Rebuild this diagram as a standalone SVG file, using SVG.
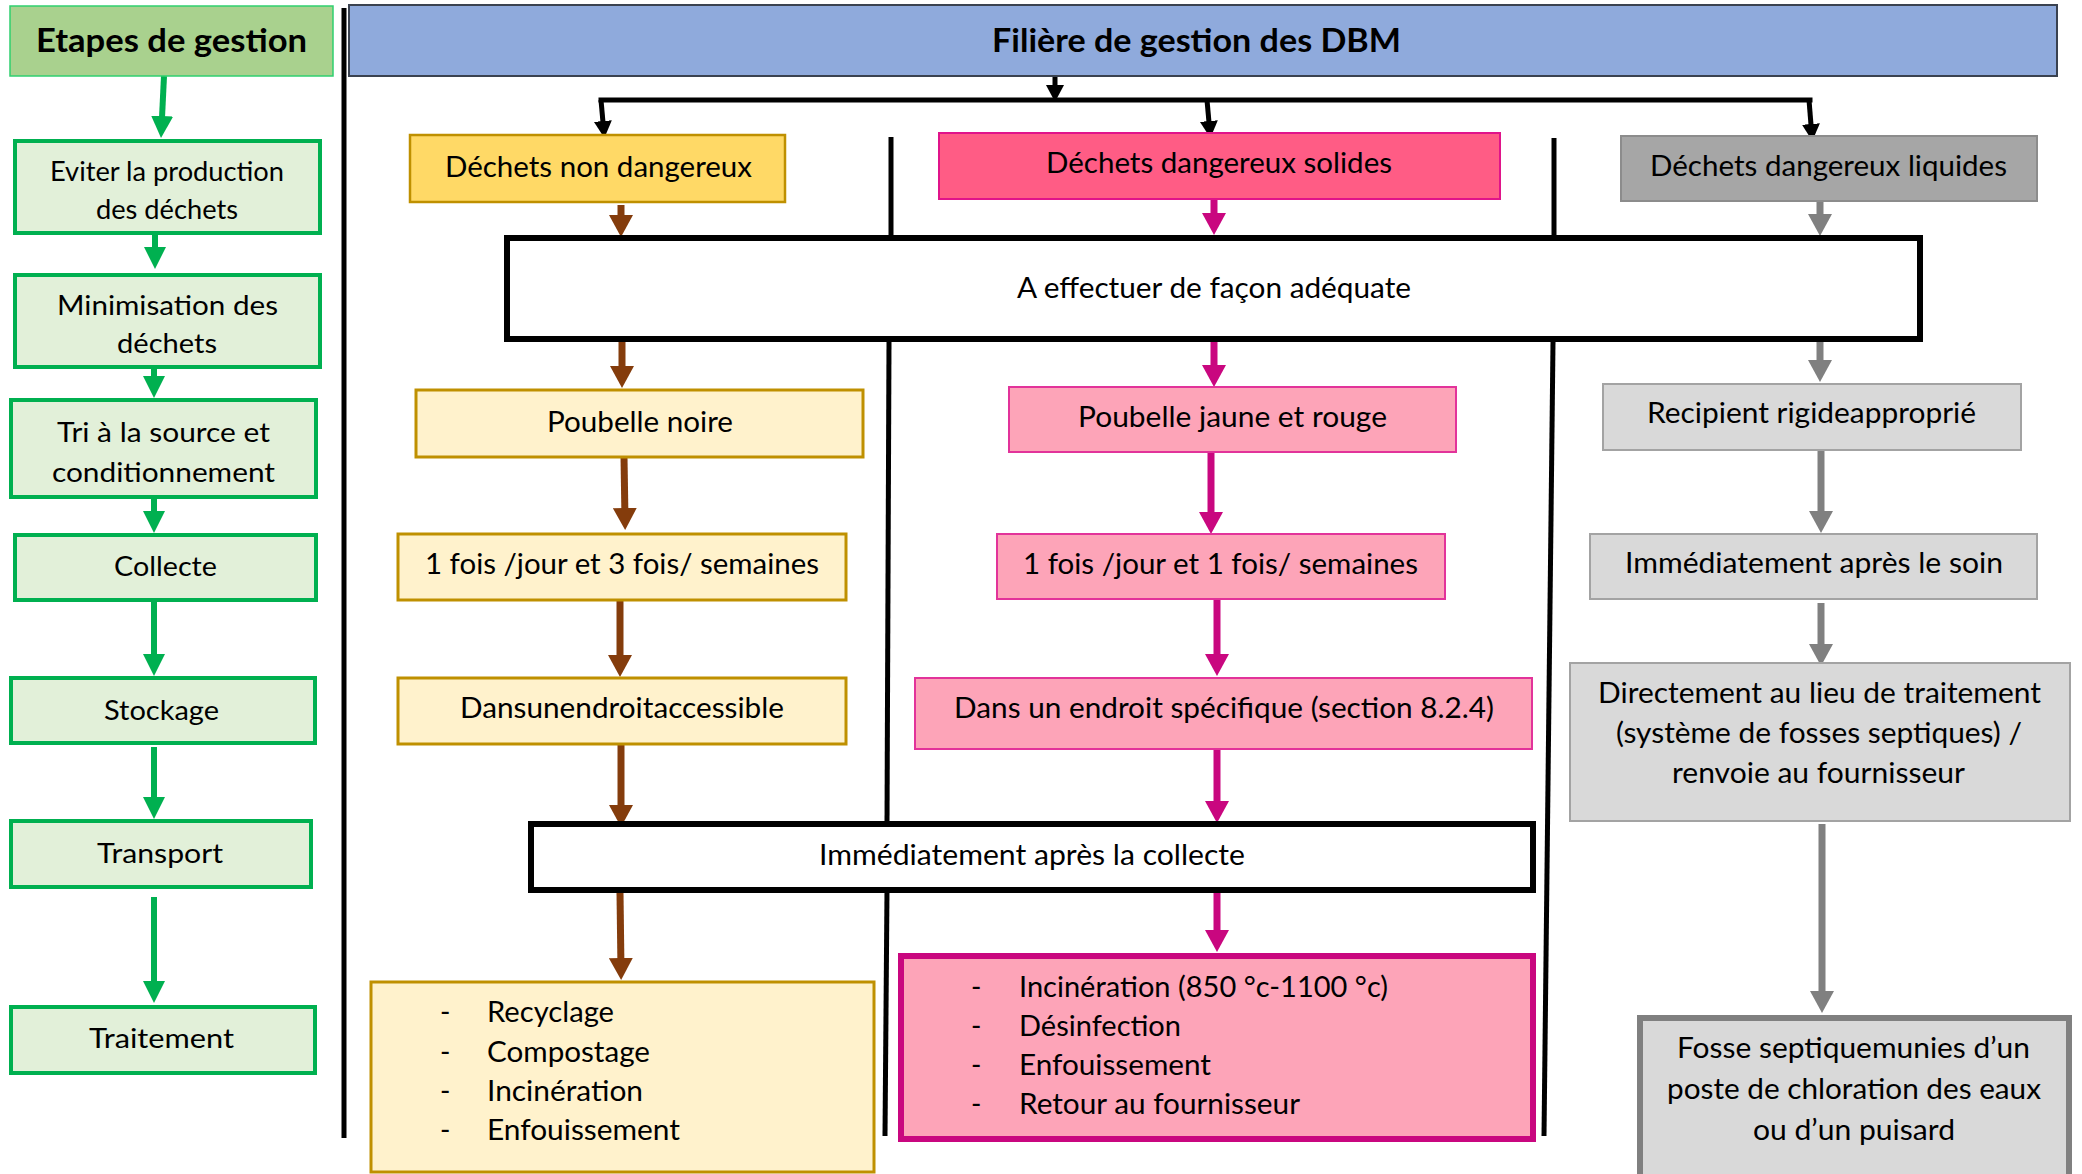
<svg xmlns="http://www.w3.org/2000/svg" width="2082" height="1174" viewBox="0 0 2082 1174">
<defs>
<style>
text{font-family:Lato,"Liberation Sans",sans-serif;fill:#000;}
.t{font-size:28px;}
.s{font-size:26px;}
.h{font-size:33px;font-weight:bold;}
.g{fill:#e2f0d9;stroke:#00b050;stroke-width:4;}
.gh{fill:#a9d18e;stroke:#2fcf6f;stroke-width:1.5;}
.bl{fill:#8faadc;stroke:#3a4250;stroke-width:2;}
.yh{fill:#ffd966;stroke:#bf9000;stroke-width:2.5;}
.yl{fill:#fff2cc;stroke:#bf9000;stroke-width:3;}
.ph{fill:#ff5c85;stroke:#e0148a;stroke-width:2;}
.pl{fill:#fda4b8;stroke:#e2339a;stroke-width:2;}
.pf{fill:#fda4b8;stroke:#c9077f;stroke-width:6;}
.gyh{fill:#a6a6a6;stroke:#8c8c8c;stroke-width:2;}
.gyl{fill:#d9d9d9;stroke:#a3a3a3;stroke-width:2;}
.gyf{fill:#d9d9d9;stroke:#808080;stroke-width:6;}
.wb{fill:#fff;stroke:#000;stroke-width:6;}
.sep{stroke:#000;stroke-width:5;fill:none;}
.ag{stroke:#00b050;stroke-width:6;fill:none;marker-end:url(#mg);}
.ab{stroke:#843c0c;stroke-width:7;fill:none;marker-end:url(#mb);}
.ap{stroke:#c9077f;stroke-width:7;fill:none;marker-end:url(#mp);}
.ay{stroke:#808080;stroke-width:7;fill:none;marker-end:url(#my);}
.ak{stroke:#000;stroke-width:5;fill:none;marker-end:url(#mk);}
</style>
<marker id="mg" markerUnits="userSpaceOnUse" viewBox="0 0 22 22" refX="12" refY="11" markerWidth="22" markerHeight="22" orient="auto"><path d="M0,0 L22,11 L0,22 Z" fill="#00b050"/></marker>
<marker id="mb" markerUnits="userSpaceOnUse" viewBox="0 0 22 24" refX="12" refY="12" markerWidth="22" markerHeight="24" orient="auto"><path d="M0,0 L22,12 L0,24 Z" fill="#843c0c"/></marker>
<marker id="mp" markerUnits="userSpaceOnUse" viewBox="0 0 22 24" refX="12" refY="12" markerWidth="22" markerHeight="24" orient="auto"><path d="M0,0 L22,12 L0,24 Z" fill="#c9077f"/></marker>
<marker id="my" markerUnits="userSpaceOnUse" viewBox="0 0 22 24" refX="12" refY="12" markerWidth="22" markerHeight="24" orient="auto"><path d="M0,0 L22,12 L0,24 Z" fill="#808080"/></marker>
<marker id="mk" markerUnits="userSpaceOnUse" viewBox="0 0 17 18" refX="7" refY="9" markerWidth="17" markerHeight="18" orient="auto"><path d="M0,0 L17,9 L0,18 Z" fill="#000"/></marker>
</defs>
<rect width="2082" height="1174" fill="#fff"/>

<g id="connectors">
  <line class="sep" x1="344" y1="8" x2="344" y2="1138"/>
  <line class="sep" x1="891" y1="137" x2="891" y2="237"/>
  <line class="sep" x1="889" y1="342" x2="887" y2="823"/>
  <line class="sep" x1="887" y1="890" x2="885" y2="1136"/>
  <line class="sep" x1="1554" y1="138" x2="1554" y2="237"/>
  <line class="sep" x1="1553" y1="342" x2="1544" y2="1136"/>
  <line class="ag" x1="164" y1="76" x2="161.5" y2="128"/>
  <line class="ag" x1="155" y1="233" x2="155" y2="259"/>
  <line class="ag" x1="154" y1="367" x2="154" y2="388"/>
  <line class="ag" x1="154" y1="497" x2="154" y2="523"/>
  <line class="ag" x1="154" y1="600" x2="154" y2="666"/>
  <line class="ag" x1="154" y1="747" x2="154" y2="809"/>
  <line class="ag" x1="154" y1="897" x2="154" y2="993"/>
  <line class="ak" x1="1055" y1="76" x2="1055" y2="92"/>
  <polyline points="601,100 1810,100" stroke="#000" stroke-width="5" fill="none" stroke-linecap="square"/>
  <line class="ak" x1="601" y1="100" x2="603.5" y2="128"/>
  <line class="ak" x1="1207" y1="100" x2="1209.5" y2="128"/>
  <line class="ak" x1="1809" y1="100" x2="1811.5" y2="131"/>
  <line class="ab" x1="621" y1="205" x2="621" y2="227"/>
  <line class="ab" x1="622" y1="342" x2="622" y2="378"/>
  <line class="ab" x1="624" y1="457" x2="625" y2="520"/>
  <line class="ab" x1="620" y1="600" x2="620" y2="667"/>
  <line class="ab" x1="621" y1="744" x2="621" y2="817"/>
  <line class="ab" x1="620" y1="893" x2="621" y2="970"/>
  <line class="ap" x1="1214" y1="199" x2="1214" y2="225"/>
  <line class="ap" x1="1214" y1="342" x2="1214" y2="377"/>
  <line class="ap" x1="1211" y1="452" x2="1211" y2="524"/>
  <line class="ap" x1="1217" y1="599" x2="1217" y2="666"/>
  <line class="ap" x1="1217" y1="749" x2="1217" y2="813"/>
  <line class="ap" x1="1217" y1="893" x2="1217" y2="942"/>
  <line class="ay" x1="1820" y1="198" x2="1820" y2="226"/>
  <line class="ay" x1="1820" y1="342" x2="1820" y2="372"/>
  <line class="ay" x1="1821" y1="450" x2="1821" y2="523"/>
  <line class="ay" x1="1821" y1="603" x2="1821" y2="656"/>
  <line class="ay" x1="1822" y1="824" x2="1822" y2="1003"/>
</g>

<g id="etapes-header"><rect class="gh" x="10" y="6" width="323" height="70"/><text class="h" x="36" y="52" textLength="271" lengthAdjust="spacingAndGlyphs">Etapes de gestion</text></g>
<g id="eviter"><rect class="g" x="15" y="141" width="305" height="92"/><text class="s" x="50" y="181" textLength="234" lengthAdjust="spacingAndGlyphs">Eviter la production</text><text class="s" x="96" y="219" textLength="142" lengthAdjust="spacingAndGlyphs">des déchets</text></g>
<g id="minimisation"><rect class="g" x="15" y="275" width="305" height="92"/><text class="s" x="57" y="315" textLength="221" lengthAdjust="spacingAndGlyphs">Minimisation des</text><text class="s" x="117" y="353" textLength="100" lengthAdjust="spacingAndGlyphs">déchets</text></g>
<g id="tri"><rect class="g" x="11" y="400" width="305" height="97"/><text class="s" x="57" y="442" textLength="213" lengthAdjust="spacingAndGlyphs">Tri à la source et</text><text class="s" x="52" y="482" textLength="223" lengthAdjust="spacingAndGlyphs">conditionnement</text></g>
<g id="collecte"><rect class="g" x="15" y="535" width="301" height="65"/><text class="s" x="114" y="576" textLength="103" lengthAdjust="spacingAndGlyphs">Collecte</text></g>
<g id="stockage"><rect class="g" x="11" y="678" width="304" height="65"/><text class="s" x="104" y="720" textLength="115" lengthAdjust="spacingAndGlyphs">Stockage</text></g>
<g id="transport"><rect class="g" x="11" y="821" width="300" height="66"/><text class="s" x="97" y="863" textLength="126" lengthAdjust="spacingAndGlyphs">Transport</text></g>
<g id="traitement"><rect class="g" x="11" y="1007" width="304" height="66"/><text class="s" x="89" y="1048" textLength="145" lengthAdjust="spacingAndGlyphs">Traitement</text></g>

<g id="filiere-header"><rect class="bl" x="349" y="5" width="1708" height="71"/><text class="h" x="992" y="52" textLength="409" lengthAdjust="spacingAndGlyphs">Filière de gestion des DBM</text></g>

<g id="non-dangereux"><rect class="yh" x="410" y="135" width="375" height="67"/><text class="t" x="445" y="177" textLength="307" lengthAdjust="spacingAndGlyphs">Déchets non dangereux</text></g>
<g id="dangereux-solides"><rect class="ph" x="939" y="133" width="561" height="66"/><text class="t" x="1046" y="173" textLength="346" lengthAdjust="spacingAndGlyphs">Déchets dangereux solides</text></g>
<g id="dangereux-liquides"><rect class="gyh" x="1621" y="136" width="416" height="65"/><text class="t" x="1650" y="176" textLength="357" lengthAdjust="spacingAndGlyphs">Déchets dangereux liquides</text></g>

<g id="effectuer"><rect class="wb" x="507" y="238" width="1413" height="101"/><text class="t" x="1017" y="298" textLength="394" lengthAdjust="spacingAndGlyphs">A effectuer de façon adéquate</text></g>

<g id="poubelle-noire"><rect class="yl" x="416" y="390" width="447" height="67"/><text class="t" x="547" y="432" textLength="186" lengthAdjust="spacingAndGlyphs">Poubelle noire</text></g>
<g id="poubelle-jaune"><rect class="pl" x="1009" y="387" width="447" height="65"/><text class="t" x="1078" y="427" textLength="309" lengthAdjust="spacingAndGlyphs">Poubelle jaune et rouge</text></g>
<g id="recipient"><rect class="gyl" x="1603" y="384" width="418" height="66"/><text class="t" x="1647" y="423" textLength="329" lengthAdjust="spacingAndGlyphs">Recipient rigideapproprié</text></g>

<g id="freq-noire"><rect class="yl" x="398" y="534" width="448" height="66"/><text class="t" x="425" y="574" textLength="394" lengthAdjust="spacingAndGlyphs">1 fois /jour et 3 fois/ semaines</text></g>
<g id="freq-jaune"><rect class="pl" x="997" y="534" width="448" height="65"/><text class="t" x="1023" y="574" textLength="395" lengthAdjust="spacingAndGlyphs">1 fois /jour et 1 fois/ semaines</text></g>
<g id="soin"><rect class="gyl" x="1590" y="534" width="447" height="65"/><text class="t" x="1625" y="573" textLength="378" lengthAdjust="spacingAndGlyphs">Immédiatement après le soin</text></g>

<g id="stock-noire"><rect class="yl" x="398" y="678" width="448" height="66"/><text class="t" x="460" y="718" textLength="324" lengthAdjust="spacingAndGlyphs">Dansunendroitaccessible</text></g>
<g id="stock-jaune"><rect class="pl" x="915" y="678" width="617" height="71"/><text class="t" x="954" y="718" textLength="540" lengthAdjust="spacingAndGlyphs">Dans un endroit spécifique (section 8.2.4)</text></g>
<g id="directement"><rect class="gyl" x="1570" y="663" width="500" height="158"/>
<text class="t" x="1598" y="703" textLength="443" lengthAdjust="spacingAndGlyphs">Directement au lieu de traitement</text>
<text class="t" x="1616" y="743" textLength="406" lengthAdjust="spacingAndGlyphs">(système de fosses septiques) /</text>
<text class="t" x="1672" y="783" textLength="293" lengthAdjust="spacingAndGlyphs">renvoie au fournisseur</text></g>

<g id="apres-collecte"><rect class="wb" x="531" y="824" width="1002" height="66"/><text class="t" x="819" y="865" textLength="426" lengthAdjust="spacingAndGlyphs">Immédiatement après la collecte</text></g>

<g id="traitement-noire"><rect class="yl" x="371" y="982" width="503" height="190"/>
<text class="t" x="440" y="1022">-</text><text class="t" x="487" y="1022" textLength="127" lengthAdjust="spacingAndGlyphs">Recyclage</text>
<text class="t" x="440" y="1062">-</text><text class="t" x="487" y="1062" textLength="163" lengthAdjust="spacingAndGlyphs">Compostage</text>
<text class="t" x="440" y="1101">-</text><text class="t" x="487" y="1101" textLength="156" lengthAdjust="spacingAndGlyphs">Incinération</text>
<text class="t" x="440" y="1140">-</text><text class="t" x="487" y="1140" textLength="193" lengthAdjust="spacingAndGlyphs">Enfouissement</text></g>

<g id="traitement-jaune"><rect class="pf" x="901" y="956" width="632" height="183"/>
<text class="t" x="971" y="997">-</text><text class="t" x="1019" y="997" textLength="369" lengthAdjust="spacingAndGlyphs">Incinération (850 °c-1100 °c)</text>
<text class="t" x="971" y="1036">-</text><text class="t" x="1019" y="1036" textLength="162" lengthAdjust="spacingAndGlyphs">Désinfection</text>
<text class="t" x="971" y="1075">-</text><text class="t" x="1019" y="1075" textLength="192" lengthAdjust="spacingAndGlyphs">Enfouissement</text>
<text class="t" x="971" y="1114">-</text><text class="t" x="1019" y="1114" textLength="281" lengthAdjust="spacingAndGlyphs">Retour au fournisseur</text></g>

<g id="fosse"><rect class="gyf" x="1640" y="1018" width="429" height="170"/>
<text class="t" x="1677" y="1058" textLength="353" lengthAdjust="spacingAndGlyphs">Fosse septiquemunies d’un</text>
<text class="t" x="1667" y="1099" textLength="374" lengthAdjust="spacingAndGlyphs">poste de chloration des eaux</text>
<text class="t" x="1753" y="1140" textLength="202" lengthAdjust="spacingAndGlyphs">ou d’un puisard</text></g>
</svg>
